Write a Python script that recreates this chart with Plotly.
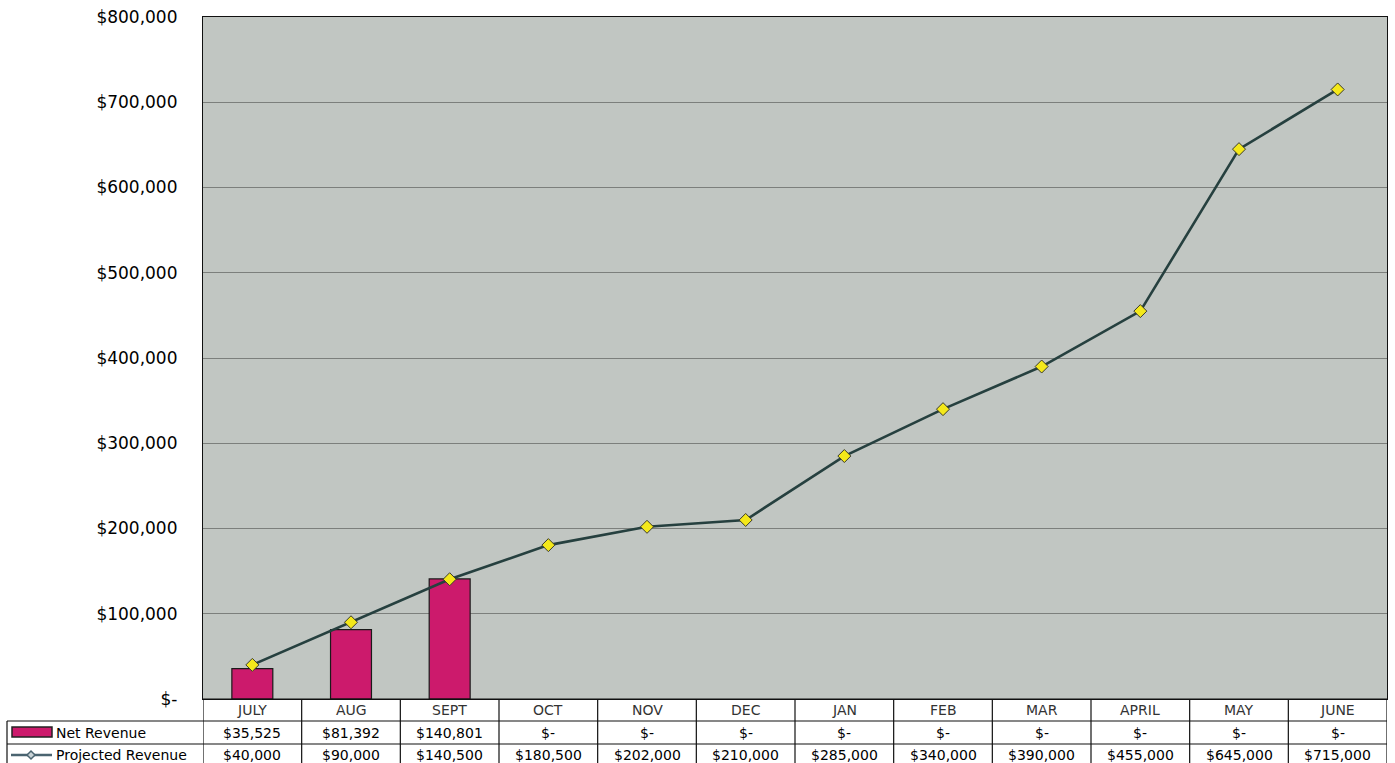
import plotly.graph_objects as go

# ---- data ----
months = ["JULY", "AUG", "SEPT", "OCT", "NOV", "DEC", "JAN", "FEB", "MAR", "APRIL", "MAY", "JUNE"]
net_revenue = [35525, 81392, 140801, 0, 0, 0, 0, 0, 0, 0, 0, 0]
projected_revenue = [40000, 90000, 140500, 180500, 202000, 210000, 285000, 340000, 390000, 455000, 645000, 715000]
y_ticks = [0, 100000, 200000, 300000, 400000, 500000, 600000, 700000, 800000]

W, H = 1395, 763
FONT = "DejaVu Sans"
BAR_COLOR = "#cc1a6c"
LINE_COLOR = "#26403f"
MARKER_COLOR = "#f4e81a"
GRID = "#7c7f7c"
PLOT_BG = "#c1c6c2"


def px(x):
    return x / W


def py(y):
    return 1 - y / H


def money(v):
    return "$-" if v == 0 else "${:,.0f}".format(v)


fig = go.Figure()

# months with no revenue yet get no bar at all (not even an outline)
fig.add_trace(go.Bar(
    x=months, y=[v if v else None for v in net_revenue], name="Net Revenue",
    marker=dict(color=BAR_COLOR, line=dict(color="#1a1a1a", width=1.2)),
))
fig.add_trace(go.Scatter(
    x=months, y=projected_revenue, name="Projected Revenue", mode="lines+markers",
    line=dict(color=LINE_COLOR, width=2.6),
    marker=dict(symbol="diamond", size=10, color=MARKER_COLOR,
                line=dict(color="#3a3a2a", width=1)),
))

x_left, x_right = 203, 1387
plot_top, plot_bottom = 17, 699
row_lines = [699, 721, 744, 766]
label_left = 7

shapes = []
annotations = []

# table grid: horizontal rules
shapes.append(dict(type="line", xref="paper", yref="paper",
                   x0=px(x_left), x1=px(x_right), y0=py(row_lines[0]), y1=py(row_lines[0]),
                   line=dict(color="#111", width=1.2)))
for r in row_lines[1:]:
    shapes.append(dict(type="line", xref="paper", yref="paper",
                       x0=px(label_left), x1=px(x_right), y0=py(r), y1=py(r),
                       line=dict(color="#111", width=1.2)))
# vertical rules between month columns
for i in range(len(months) + 1):
    shapes.append(dict(type="line", xref="x", yref="paper",
                       x0=i - 0.5, x1=i - 0.5, y0=py(row_lines[0]), y1=py(row_lines[-1]),
                       line=dict(color="#111", width=1.2)))
shapes.append(dict(type="line", xref="paper", yref="paper",
                   x0=px(label_left), x1=px(label_left), y0=py(row_lines[1]), y1=py(row_lines[-1]),
                   line=dict(color="#111", width=1.2)))

# legend keys inside the label column
shapes.append(dict(type="rect", xref="paper", yref="paper",
                   x0=px(12), x1=px(52), y0=py(727), y1=py(737),
                   fillcolor=BAR_COLOR, line=dict(color="#222", width=1.5)))
shapes.append(dict(type="line", xref="paper", yref="paper",
                   x0=px(11), x1=px(52), y0=py(755), y1=py(755),
                   line=dict(color="#4a6470", width=2.5)))
cx, cy = 31, 755
shapes.append(dict(type="path", xref="paper", yref="paper",
                   path="M {} {} L {} {} L {} {} L {} {} Z".format(
                       px(cx - 4), py(cy), px(cx), py(cy - 4), px(cx + 4), py(cy), px(cx), py(cy + 4)),
                   fillcolor="#c9d3d6", line=dict(color="#4a6470", width=1.5)))

row_centers = [710, 733, 755]
for i, m in enumerate(months):
    annotations.append(dict(x=m, xref="x", y=py(row_centers[0]), yref="paper",
                            text=m, showarrow=False, xanchor="center", yanchor="middle",
                            font=dict(family=FONT, size=14, color="#333")))
    annotations.append(dict(x=m, xref="x", y=py(row_centers[1]), yref="paper",
                            text=money(net_revenue[i]), showarrow=False, xanchor="center", yanchor="middle",
                            font=dict(family=FONT, size=14, color="#000")))
    annotations.append(dict(x=m, xref="x", y=py(row_centers[2]), yref="paper",
                            text=money(projected_revenue[i]), showarrow=False, xanchor="center", yanchor="middle",
                            font=dict(family=FONT, size=14, color="#000")))

for label, yc in (("Net Revenue", row_centers[1]), ("Projected Revenue", row_centers[2])):
    annotations.append(dict(x=px(54), xref="paper", y=py(yc), yref="paper",
                            text=label, showarrow=False, xanchor="left", yanchor="middle",
                            font=dict(family=FONT, size=14, color="#000")))

fig.update_layout(
    width=W, height=H,
    margin=dict(l=0, r=0, t=0, b=0, autoexpand=False),
    paper_bgcolor="white",
    plot_bgcolor=PLOT_BG,
    showlegend=False,
    bargap=0.585,
    shapes=shapes,
    annotations=annotations,
    xaxis=dict(domain=[px(x_left), px(x_right)], type="category", showticklabels=False,
               automargin=False,
               showgrid=False, showline=True, linecolor="#111", linewidth=1.2, mirror=True,
               range=[-0.5, len(months) - 0.5]),
    yaxis=dict(domain=[py(plot_bottom), py(plot_top)], range=[0, 800000],
               automargin=False,
               tickvals=y_ticks, ticktext=[money(v) for v in y_ticks],
               tickfont=dict(family=FONT, size=17, color="#000"),
               ticklabelstandoff=21,
               showgrid=True, gridcolor=GRID, gridwidth=1.2, zeroline=False,
               showline=True, linecolor="#111", linewidth=1.2, mirror=True),
)

fig.write_html("out.html")
